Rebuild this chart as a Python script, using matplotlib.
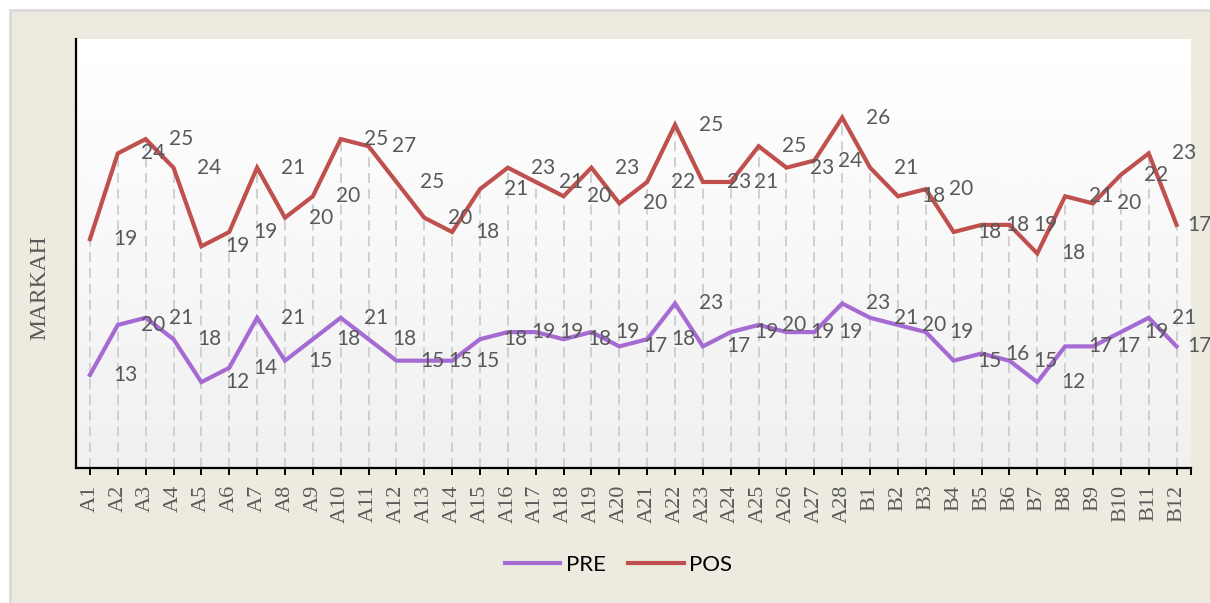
import numpy as np
import matplotlib.pyplot as plt
from matplotlib.patches import Rectangle

# ================================
# DATA
# ================================

students = [f"A{i}" for i in range(1, 29)] + [f"B{i}" for i in range(1, 13)]

pre = [13, 20, 21, 18, 12, 14, 21, 15, 18, 21, 18, 15, 15, 15, 18, 19, 19, 18, 19, 17,
       18, 23, 17, 19, 20, 19, 19, 23,
       21, 20, 19, 15, 16, 15, 12, 17, 17, 19, 21, 17]

pos = [19, 24, 25, 24, 19, 19, 21, 20, 20, 25, 27, 25, 20, 18, 21, 23, 21, 20, 23, 20,
       22, 25, 23, 21, 25, 23, 24, 26,
       21, 18, 20, 18, 18, 19, 18, 21, 20, 22, 23, 17]

# stacked line chart: POS sits on top of PRE
pre = np.array(pre)
pos_stacked = pre + np.array(pos)
x = np.arange(len(students))

PRE_COLOR = "#A66BD3"
POS_COLOR = "#C0504D"
LABEL_GREY = "#595959"

# ================================
# FIGURE
# ================================

fig = plt.figure(figsize=(12.10, 6.03), dpi=100)
fig.patch.set_facecolor("white")
frame = Rectangle((10 / 1210, -0.1), 1.1, 1 - 10 / 603 + 0.1,
                  transform=fig.transFigure, facecolor="#EDEBE0",
                  edgecolor="#D9D9D9", linewidth=2, zorder=-10)
fig.add_artist(frame)

ax = fig.add_axes([76 / 1210, 1 - 467.9 / 603, (1190.5 - 76) / 1210, (467.9 - 39) / 603])
ax.set_zorder(1)
ax.set_xlim(-0.5, len(students) - 0.5)
ax.set_ylim(0, 60)

# plot area gradient (white -> light grey)
grad = np.linspace(1.0, 0.94, 256).reshape(-1, 1)
ax.imshow(grad, extent=(0, 1, 0, 1), transform=ax.transAxes, cmap="gray",
          vmin=0, vmax=1, aspect="auto", zorder=0)

# drop lines
ax.vlines(x, 0, pos_stacked, colors="#C9C9C9", linewidth=1.2,
          linestyles=(0, (6, 3.5)), zorder=1)

ax.plot(x, pre, color=PRE_COLOR, linewidth=3, label="PRE", zorder=3,
        solid_joinstyle="miter")
ax.plot(x, pos_stacked, color=POS_COLOR, linewidth=3, label="POS", zorder=3,
        solid_joinstyle="miter")

# data labels (right of each point, last one pulled inside)
n = len(students)
for i in range(n):
    off = 17 if i < n - 1 else 8
    ax.annotate(str(pre[i]), (x[i], pre[i]), xytext=(off, 0), textcoords="offset points",
                ha="left", va="center", fontsize=15, family="Lato", color=LABEL_GREY, zorder=4)
    ax.annotate(str(pos[i]), (x[i], pos_stacked[i]), xytext=(off, 0), textcoords="offset points",
                ha="left", va="center", fontsize=15, family="Lato", color=LABEL_GREY, zorder=4)

# axes styling
for side in ["top", "right"]:
    ax.spines[side].set_visible(False)
ax.spines["left"].set_linewidth(1.6)
ax.spines["bottom"].set_linewidth(1.6)
ax.set_yticks([])
ax.set_xticks(x)
ax.set_xticklabels(students, rotation=90, fontsize=16, family="Liberation Serif", color=LABEL_GREY)
ax.set_xticks([len(students) - 0.5], minor=True)
ax.tick_params(axis="x", which="both", direction="out", length=5, width=1.4, pad=7)

fig.text(40 / 1210, 1 - 287.5 / 603, "MARKAH", rotation=90, ha="center", va="center",
         fontsize=17, family="Liberation Serif", color=LABEL_GREY)

fig.legend(loc="center", bbox_to_anchor=(618.5 / 1210, 1 - 565 / 603), ncol=2,
           frameon=False, prop={"family": "Lato", "size": 16}, handlelength=2.5,
           handletextpad=0.25, columnspacing=1.0)

fig.savefig("out.png", dpi=100)
